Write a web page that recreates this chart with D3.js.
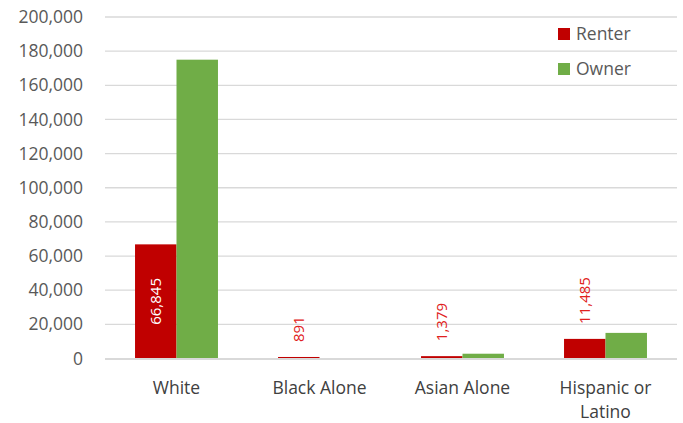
<!DOCTYPE html>
<html>
<head>
<meta charset="utf-8">
<script src="https://cdn.jsdelivr.net/npm/d3@7"></script>
<style>
  body { margin: 0; background: #fff; }
  text { font-family: "Open Sans", sans-serif; }
</style>
</head>
<body>
<div id="chart"></div>
<script>
const categories = ["White", "Black Alone", "Asian Alone", "Hispanic or Latino"];
const seriesNames = ["Renter", "Owner"];
const renter = [66845, 891, 1379, 11485];
const owner = [175000, 0, 2800, 15000];
const yTicks = [0, 20000, 40000, 60000, 80000, 100000, 120000, 140000, 160000, 180000, 200000];

const colors = { Renter: "#C00000", Owner: "#70AD47" };

const W = 683, H = 423;
const margin = { left: 105, right: 6, top: 17, bottom: 64 };

const svg = d3.select("#chart").append("svg")
    .attr("width", W)
    .attr("height", H);

let x = d3.scaleBand()
    .domain(categories)
    .range([margin.left, W - margin.right])
    .paddingInner(0.42)
    .paddingOuter(0.21);

let x1 = d3.scaleBand()
    .domain(seriesNames)
    .range([0, x.bandwidth()]);

let y = d3.scaleLinear()
    .domain([0, 200000])
    .range([H - margin.bottom - 0.5, margin.top]);

// gridlines
svg.append("g")
    .selectAll("line")
    .data(yTicks.filter(d => d > 0))
    .enter()
    .append("line")
    .attr("x1", margin.left)
    .attr("x2", W - margin.right)
    .attr("y1", d => y(d))
    .attr("y2", d => y(d))
    .attr("stroke", "#D9D9D9")
    .attr("stroke-width", 1.3);

// y axis labels
let yAxis = d3.axisLeft(y)
    .tickValues(yTicks)
    .tickSize(0)
    .tickPadding(22)
    .tickFormat(d3.format(","));
let gy = svg.append("g")
    .attr("transform", "translate(" + margin.left + ",0)")
    .call(yAxis);
gy.select(".domain").remove();
gy.selectAll("text")
    .attr("fill", "#595959")
    .style("font-size", "17.5px");

// bars
let rows = categories.map((c, i) => ({ cat: c, values: [
    { key: "Renter", value: renter[i] },
    { key: "Owner", value: owner[i] }
] }));

let groups = svg.append("g")
    .selectAll("g")
    .data(rows)
    .enter()
    .append("g")
    .attr("transform", d => "translate(" + x(d.cat) + ",0)");

groups.selectAll("rect")
    .data(d => d.values)
    .enter()
    .append("rect")
    .attr("x", d => x1(d.key))
    .attr("width", x1.bandwidth())
    .attr("y", d => y(d.value))
    .attr("height", d => y(0) - y(d.value))
    .attr("fill", d => colors[d.key]);

// axis line on top of bars
svg.append("line")
    .attr("x1", margin.left)
    .attr("x2", W - margin.right)
    .attr("y1", y(0) + 0.5)
    .attr("y2", y(0) + 0.5)
    .attr("stroke", "#D9D9D9")
    .attr("stroke-width", 2.2);

// renter data labels (rotated)
groups.each(function (d) {
    let v = d.values[0].value;
    let cx = x1("Renter") + x1.bandwidth() / 2;
    let inside = (y(0) - y(v)) > 60;
    let t = d3.select(this).append("text")
        .text(d3.format(",")(v))
        .style("font-size", "15px")
        .attr("fill", inside ? "#ffffff" : "#E02020");
    if (inside) {
        let cy = (y(0) + y(v)) / 2;
        t.attr("text-anchor", "middle")
            .attr("transform", "translate(" + (cx + 5) + "," + cy + ") rotate(-90)");
    } else {
        t.attr("text-anchor", "start")
            .attr("transform", "translate(" + (cx + 5) + "," + (y(v) - 15) + ") rotate(-90)");
    }
});

// x axis labels
let xl = svg.append("g")
    .selectAll("text")
    .data(categories)
    .enter()
    .append("text")
    .attr("x", d => x(d) + x.bandwidth() / 2)
    .attr("y", 394)
    .attr("text-anchor", "middle")
    .attr("fill", "#404040")
    .style("font-size", "17.5px");
xl.each(function (d) {
    let parts = d === "Hispanic or Latino" ? ["Hispanic or", "Latino"] : [d];
    let el = d3.select(this);
    parts.forEach((p, i) => {
        el.append("tspan")
            .attr("x", x(d) + x.bandwidth() / 2)
            .attr("dy", i === 0 ? 0 : 24)
            .text(p);
    });
});

// legend
let legend = svg.append("g")
    .selectAll("g")
    .data(seriesNames)
    .enter()
    .append("g")
    .attr("transform", (d, i) => "translate(558," + (28 + i * 35) + ")");
legend.append("rect")
    .attr("width", 12)
    .attr("height", 12)
    .attr("fill", d => colors[d]);
legend.append("text")
    .attr("x", 18)
    .attr("y", 12)
    .attr("fill", "#595959")
    .style("font-size", "17.5px")
    .text(d => d);
</script>
</body>
</html>
